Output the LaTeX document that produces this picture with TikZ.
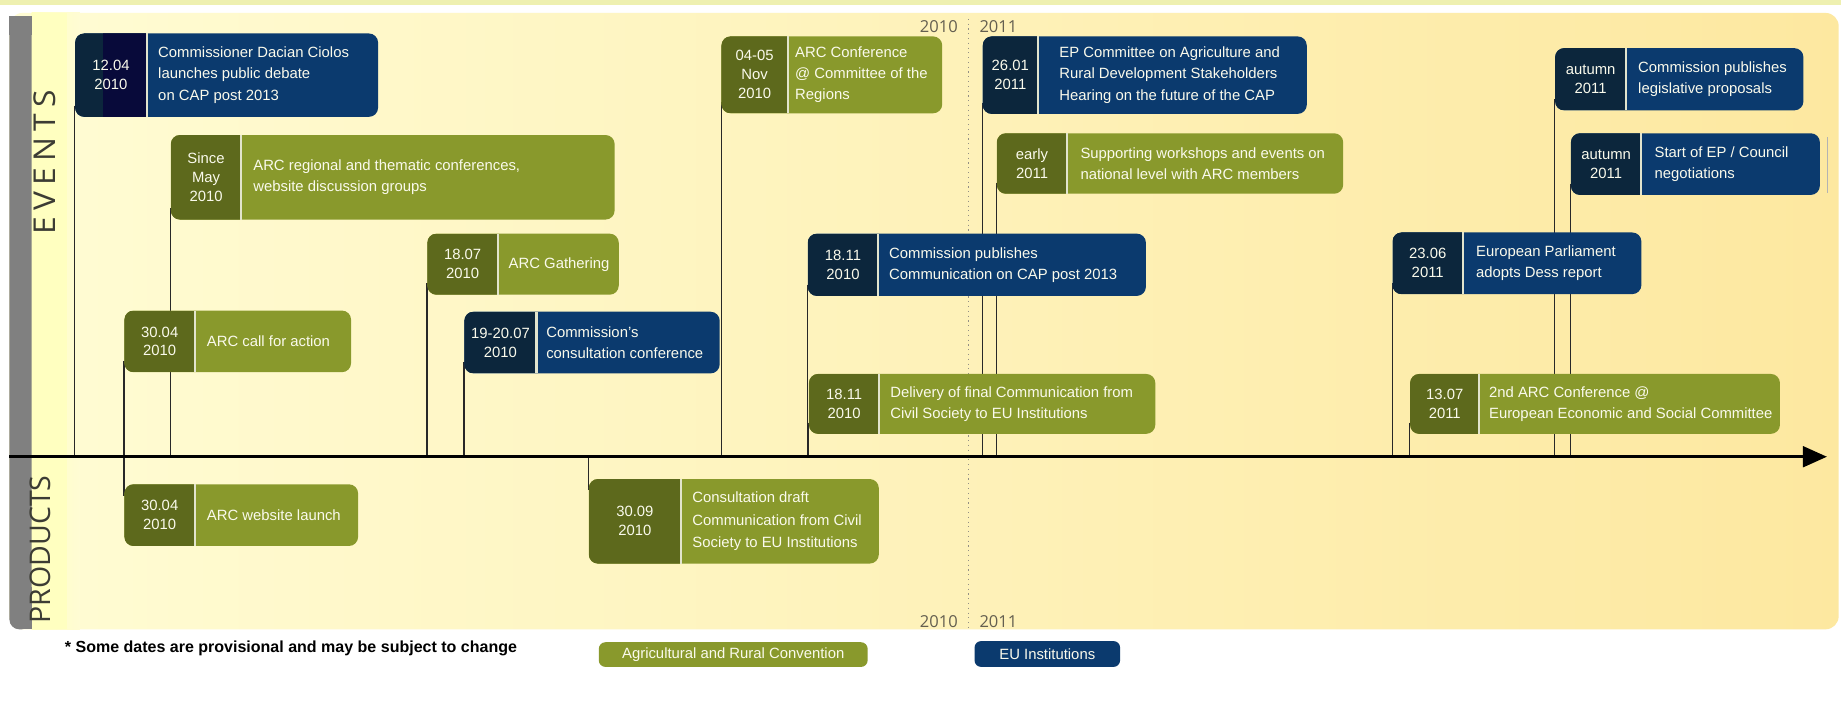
\documentclass[tikz,border=0pt]{standalone}
\usepackage{fontspec}
\setmainfont{Liberation Sans}
\newfontfamily\opensans{Open Sans}
\newfontfamily\opensanswide[LetterSpace=20]{Open Sans}
\usepackage{graphicx}
\usetikzlibrary{arrows.meta,fit}
\definecolor{bluemain}{RGB}{11,58,110}
\definecolor{bluedark}{RGB}{12,38,60}
\definecolor{greenmain}{RGB}{137,153,44}
\definecolor{greendark}{RGB}{93,105,28}
\definecolor{navyblack}{RGB}{8,10,58}
\definecolor{cream}{RGB}{250,250,236}
\definecolor{divcol}{RGB}{226,228,205}
\definecolor{bgL}{RGB}{255,252,212}
\definecolor{bgM}{RGB}{255,244,188}
\definecolor{bgR}{RGB}{253,232,160}
\definecolor{band}{RGB}{255,255,192}
\definecolor{barcol}{RGB}{128,128,128}
\definecolor{topstrip}{RGB}{238,240,176}
\definecolor{labcol}{RGB}{60,60,52}
\definecolor{yrcol}{RGB}{100,95,80}
\definecolor{conncol}{RGB}{40,40,40}
\pgfdeclarelayer{back}
\pgfdeclarelayer{lines}
\pgfsetlayers{back,lines,main}
\def\tgap{9.5}
\def\datehook{}
\def\bodyfont{\fontsize{9}{12.8}\selectfont}
% #1 name, #2 x1, #3 y1, #4 x2, #5 y2, #6 split x, #7 blue/green, #8 date, #9 text
\newcommand\evbox[9]{%
  \node[fit={(#2,#3) (#4,#5)}, boxbase, fill=#7main] (#1) {};
  \begin{scope}
    \clip[rounded corners=5.5pt] (#2,#3) rectangle (#4,#5);
    \fill[#7dark] (#2,#3) rectangle (#6,#5);
    \datehook
  \end{scope}
  \draw[divider] (#6,#3) -- (#6,#5);
  \node[datet] (#1d) at ({(#2+#6)/2},{(#3+#5)/2}) {#8};
  \node[bodyt] (#1t) at ({#6+\tgap},{(#3+#5)/2}) {#9};
}
\begin{document}
\begin{tikzpicture}[x=0.025cm,y=-0.025cm,
  boxbase/.style={inner sep=0pt, rounded corners=5.5pt},
  divider/.style={draw=divcol, line width=1.3pt},
  datet/.style={font=\fontsize{9}{11.5}\selectfont, text=cream, align=center, inner sep=0pt},
  bodyt/.style={font=\bodyfont, text=cream, align=left, inner sep=0pt, anchor=west},
  conn/.style={draw=conncol, line width=0.8pt},
  yr/.style={font=\opensans\fontsize{10}{12}\selectfont, text=yrcol, inner sep=0pt},
  legt/.style={font=\fontsize{9}{11}\selectfont, text=cream, inner sep=0pt}]
\useasboundingbox (0,0) rectangle (1568,601);
\begin{pgfonlayer}{back}
  \fill[white] (0,0) rectangle (1568,601);
  \fill[topstrip] (0,0) rectangle (1568,4);
  \shade[left color=bgL, middle color=bgM, right color=bgR, rounded corners=8pt] (8,11) rectangle (1566,536);
  \shade[left color=band, right color=bgL] (27,11) rectangle (68,536);
  \fill[band] (27,11) rectangle (57,536);
  \fill[barcol, rounded corners=6pt] (8,14) rectangle (27,536);
  \fill[barcol] (8,14) rectangle (27,30);
  \fill[barcol] (18,500) rectangle (27,536);
\end{pgfonlayer}

% side labels
\node[rotate=90, inner sep=0pt, text=labcol] (ev) at (38,141) {\resizebox{84pt}{13.2pt}{\opensanswide EVENTS\kern-0.2em}};
\node[rotate=90, inner sep=0pt, text=labcol] (pr) at (34,468) {\resizebox{89.6pt}{12.5pt}{\opensans PRODUCTS}};

% year separator
\coordinate (ysT) at (825,16);
\coordinate (ysB) at (825,536);
\draw[yrcol!70, line width=0.7pt, dash pattern=on 0.7pt off 2.2pt] (ysT) -- (ysB);
\node[yr, anchor=east] (y10t) at (816,23) {2010};
\node[yr, anchor=west] (y11t) at (834,23) {2011};
\node[yr, anchor=east] (y10b) at (816,529) {2010};
\node[yr, anchor=west] (y11b) at (834,529) {2011};

% axis
\coordinate (ax) at (0,389);
\coordinate (axL) at (8,389);
\coordinate (axR) at (1556,389);
\draw[line width=1.8pt, -{Triangle[length=14.5pt,width=12.5pt]}] (axL) -- (axR);

% boxes
\def\datehook{\fill[navyblack] (88,20) rectangle (125,110);}
\evbox{b1}{64}{28.5}{322}{99.5}{125}{blue}{12.04\\2010}{Commissioner Dacian Ciolos\\launches public debate\\on CAP post 2013}
\def\datehook{}
\def\tgap{10}
\evbox{b2}{145.5}{115}{523.5}{187}{205.5}{green}{Since\\May\\2010}{ARC regional and thematic conferences,\\website discussion groups}
\def\tgap{9}
\evbox{b3}{364}{199}{527}{251}{424}{green}{18.07\\2010}{ARC Gathering}
\def\tgap{10}
\evbox{b4}{106}{264.5}{299}{317}{166}{green}{30.04\\2010}{ARC call for action}
\def\tgap{8}
\evbox{b5}{395.5}{265.5}{613}{318}{457}{blue}{19-20.07\\2010}{Commission's\\consultation conference}
\def\tgap{9.5}
\def\bodyfont{\fontsize{9}{13.6}\selectfont}
\evbox{b6}{501.5}{408}{748.5}{480}{580}{green}{30.09\\2010}{Consultation draft\\Communication from Civil\\Society to EU Institutions}
\def\bodyfont{\fontsize{9}{12.8}\selectfont}
\def\tgap{10}
\evbox{b7}{106}{412.5}{305}{465}{166}{green}{30.04\\2010}{ARC website launch}
\def\tgap{6}
\evbox{b8}{614.5}{31}{802.5}{96.5}{671}{green}{04-05\\Nov\\2010}{ARC Conference\\@ Committee of the\\Regions}
\def\tgap{9}
\evbox{b9}{688}{199}{976}{252}{748}{blue}{18.11\\2010}{Commission publishes\\Communication on CAP post 2013}
\evbox{b10}{689}{318.5}{984}{369.5}{749}{green}{18.11\\2010}{Delivery of final Communication from\\Civil Society to EU Institutions}
\def\tgap{18}
\evbox{b11}{837}{31}{1113}{97}{884}{blue}{26.01\\2011}{EP Committee on Agriculture and\\Rural Development Stakeholders\\Hearing on the future of the CAP}
\def\tgap{11}
\evbox{b12}{849}{113.5}{1144}{165}{909}{green}{early\\2011}{Supporting workshops and events on\\national level with ARC members}
\evbox{b13}{1186}{198}{1398}{250.5}{1246}{blue}{23.06\\2011}{European Parliament\\adopts Dess report}
\def\tgap{8}
\evbox{b14}{1201}{318.5}{1516}{369.5}{1260}{green}{13.07\\2011}{2nd ARC Conference @\\European Economic and Social Committee}
\def\tgap{10}
\evbox{b15}{1324.5}{41}{1536}{94}{1385}{blue}{autumn\\2011}{Commission publishes\\legislative proposals}
\def\tgap{11}
\evbox{b16}{1338}{113.5}{1550}{166}{1398}{blue}{autumn\\2011}{Start of EP / Council\\negotiations}
\draw[barcol!60, line width=0.5pt] (1556,117) -- (1556,164);

% connectors
\begin{pgfonlayer}{lines}
  \foreach \b in {b1,b2,b3,b4,b5,b8,b9,b10,b11,b12,b13,b14,b15,b16}
    \draw[conn] ([yshift=7pt]\b.south west) -- (\b.south west |- ax);
  \foreach \b in {b6,b7}
    \draw[conn] (\b.north west |- ax) -- ([yshift=-7pt]\b.north west);
\end{pgfonlayer}

% footnote and legend
\node[anchor=base west, inner sep=0pt, font=\bfseries\fontsize{9.7}{12}\selectfont] (note) at (55,556) {* Some dates are provisional and may be subject to change};
\node[fit={(510,547) (739,568)}, inner sep=0pt, rounded corners=4pt, fill=greenmain] (lg1) {};
\node[legt] (lg1t) at (lg1.center) {Agricultural and Rural Convention};
\node[fit={(830,546) (954,568)}, inner sep=0pt, rounded corners=4pt, fill=bluemain] (lg2) {};
\node[legt] (lg2t) at (lg2.center) {EU Institutions};
\end{tikzpicture}
\end{document}
